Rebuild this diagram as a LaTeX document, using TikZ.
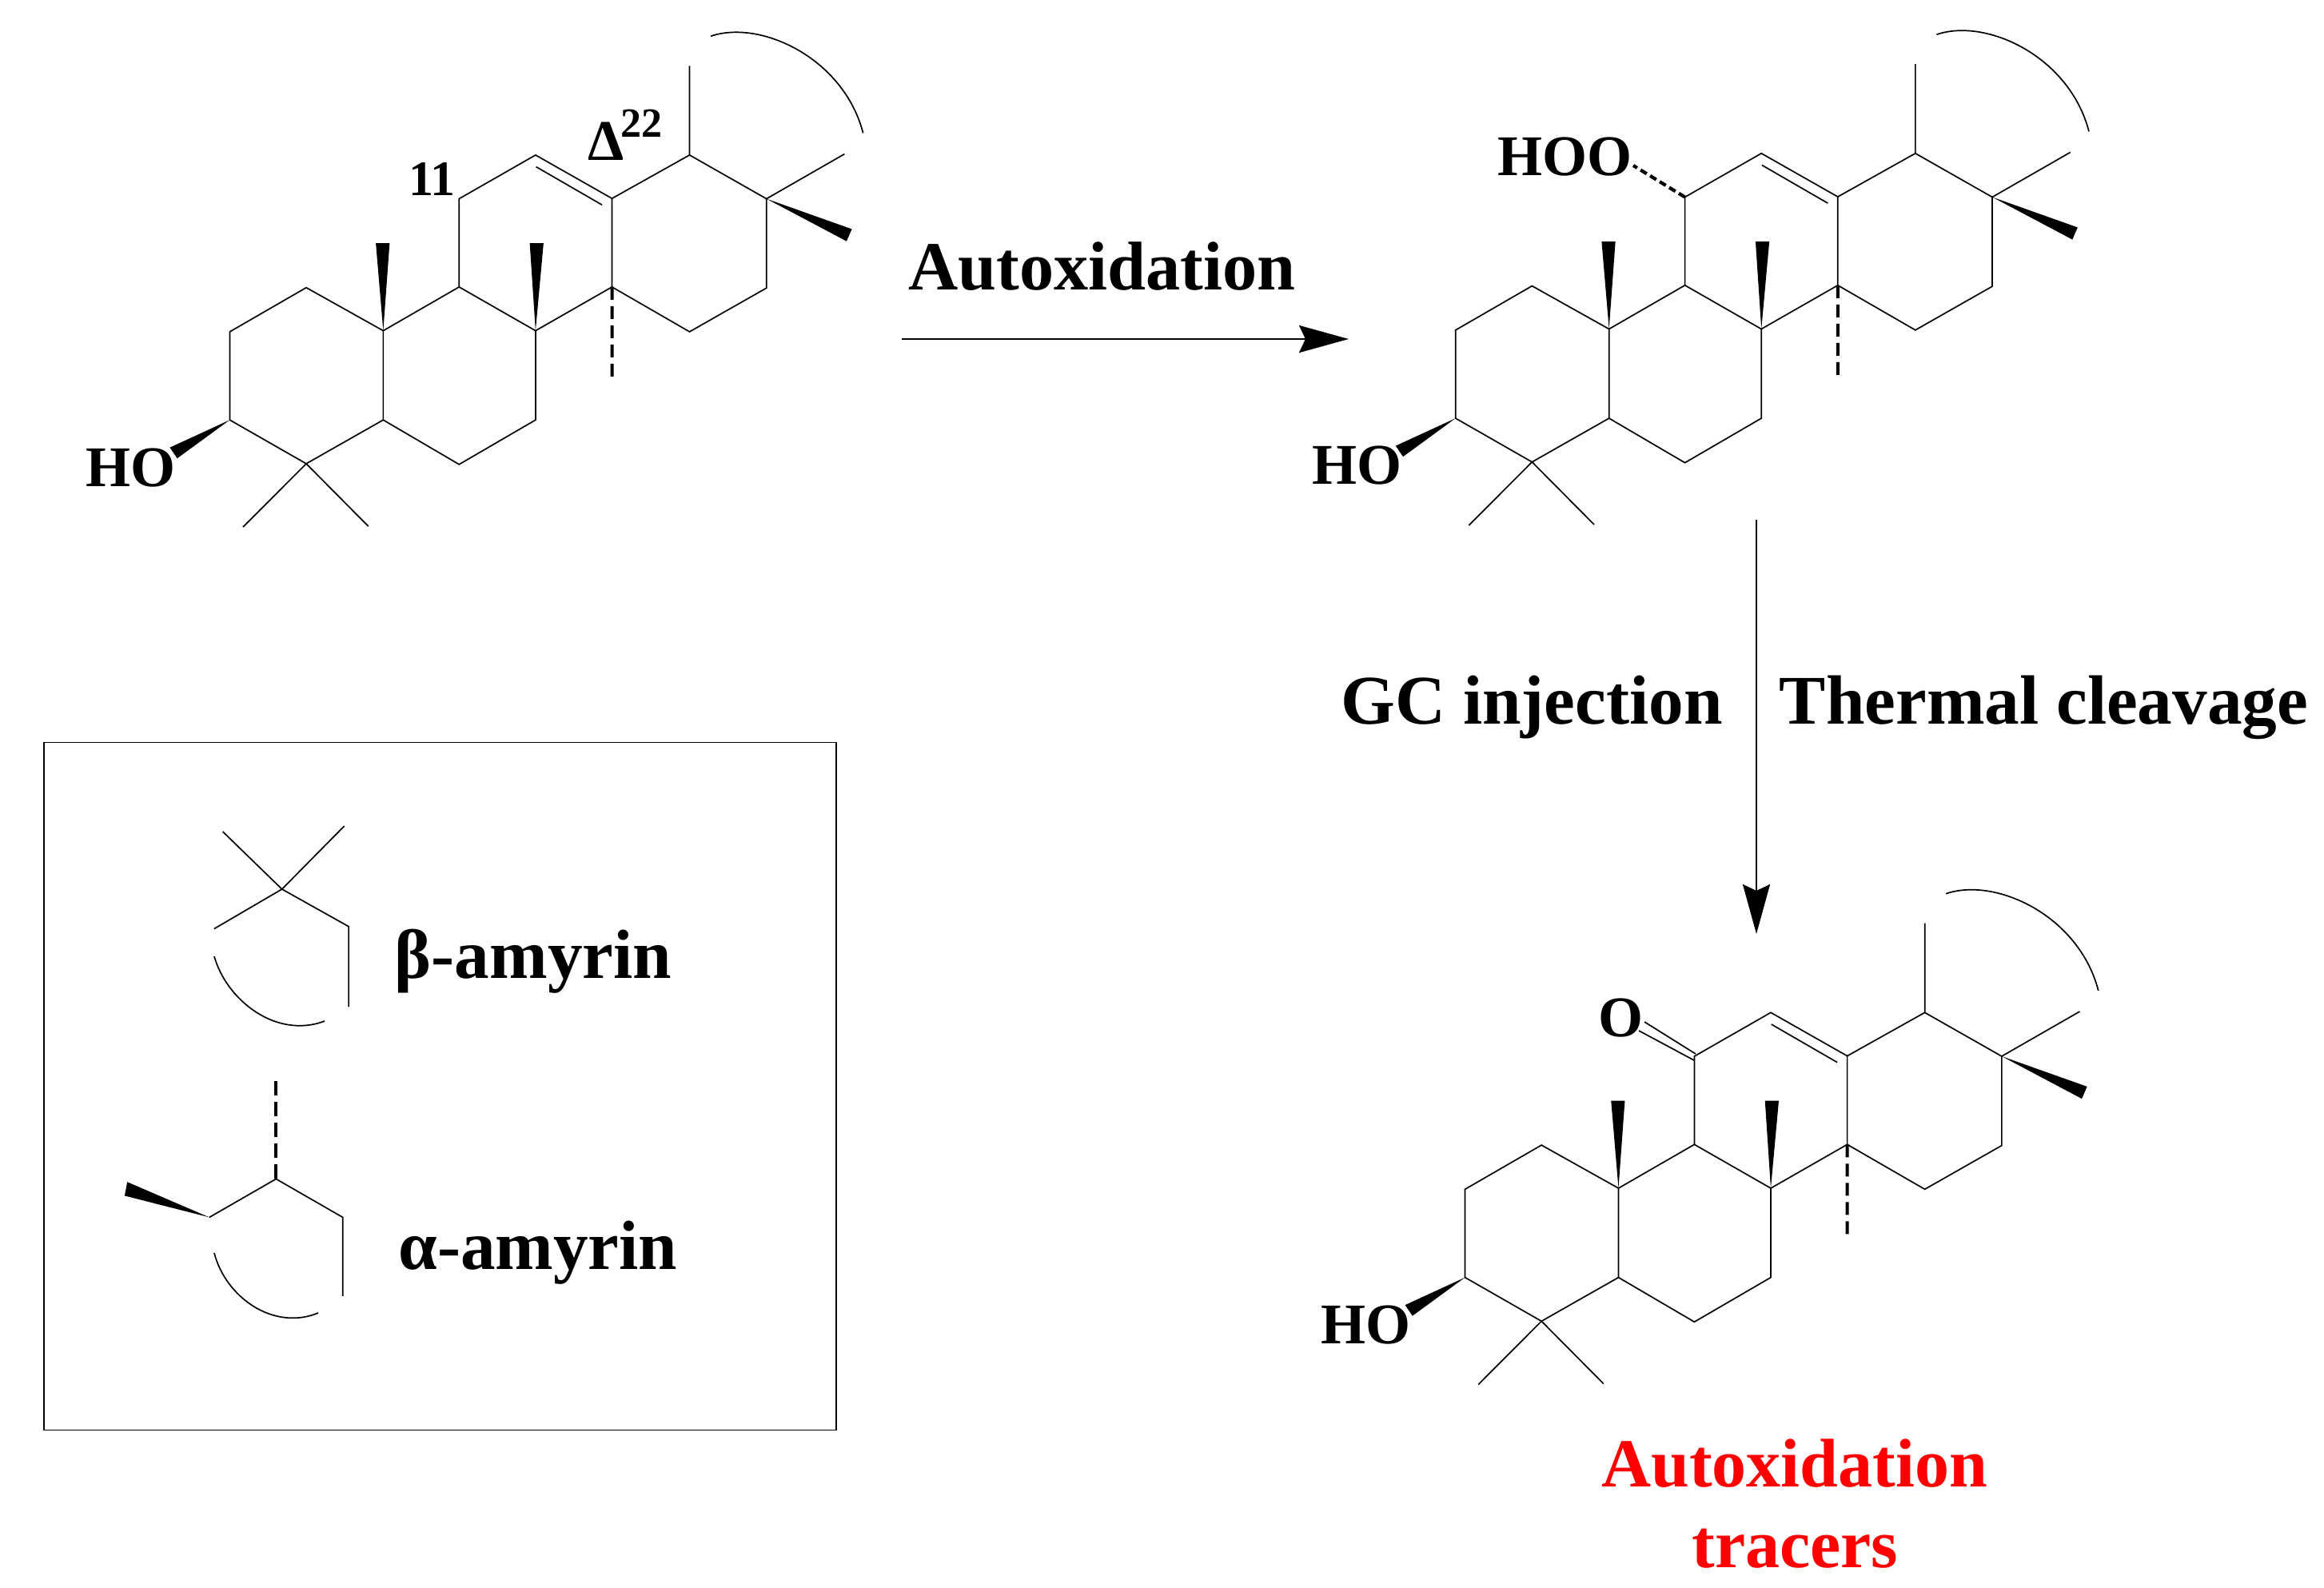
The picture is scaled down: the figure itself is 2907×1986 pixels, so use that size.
\documentclass[tikz,border=0pt]{standalone}
\usepackage{fontspec}
\setmainfont{Liberation Serif}
\usetikzlibrary{arrows.meta}
\tikzset{
    bond/.style = {line width=0.85pt, line join=miter},
    hashbond/.style = {line width=2pt, dash pattern=on 8pt off 4pt},
    boldlabel/.style = {font=\bfseries\fontsize{43.6}{46}\selectfont, anchor=base west, inner sep=0pt},
    atomlabel/.style = {font=\bfseries\fontsize{36}{38}\selectfont, anchor=base west, inner sep=0pt},
    reaction/.style = {line width=1.3pt, -{Stealth[length=31pt,width=17pt,inset=4pt]}},
    molecule/.style = {xscale=0.996},
    pics/triterpane/.style = {code = {
        \foreach \atom/\px/\py in {a1/289.3/525.2, a2/289.3/414.9, a3/385.3/359.7, a4/482/413.6, a5/482/525.2, a6/385.3/579.9,
                                   b1/577.3/580.8, b2/673.3/525.2, b3/673.3/413.6, b4/577.3/358.9,
                                   c1/769.3/358.9, c2/769.3/248.2, c3/673.3/193.9, c4/577.3/248.6,
                                   d1/866.7/193.9, d2/963.3/248.6, d3/963.3/360.2, d4/866.7/414.9}
            \coordinate (\atom) at (\px,\py);
        % rings
        \draw[bond] (a1) -- (a2) -- (a3) -- (a4) -- (a5) -- (a6) -- cycle;
        \draw[bond] (a5) -- (b1) -- (b2) -- (b3) -- (b4) -- (a4);
        \draw[bond] (b3) -- (c1) -- (c2) -- (c3) -- (c4) -- (b4);
        \draw[bond] (c1) -- (d4) -- (d3) -- (d2) -- (d1) -- (c2);
        \draw[bond] (674,208.6) -- (756.7,256.2);
        % methyls
        \draw[bond] (a6) -- (306,659.1);
        \draw[bond] (a6) -- (463.3,658.2);
        \draw[bond] (d1) -- (866.7,82.3);
        \draw[bond] (d2) -- (1061.3,192.6);
        \draw[hashbond] (c1) -- (769.3,470.9);
        \fill (a4) -- (472.7,304.2) -- (490,304.2) -- cycle;
        \fill (b3) -- (666,304.2) -- (683.3,304.2) -- cycle;
        \fill (d2) -- (1070.5,286.5) -- (1063.9,301.7) -- cycle;
        \fill (a1) -- (214,559.7) -- (223.3,573.2) -- cycle;
        \draw[bond] (893.3,45.3) .. controls (955,24) and (1060,72) .. (1084.7,166.5);
        \node[atomlabel] (ho) at (108.5,608) {HO};
    }}
}
\begin{document}
\begin{tikzpicture}[x=0.5pt, y=-0.5pt]
    \useasboundingbox (0,0) rectangle (2907,1986);
    \pic[molecule] (m1) at (-0.7,0) {triterpane};
    \pic[molecule] (m2) at (1532.6,-2.1) {triterpane};
    \pic[molecule] (m3) at (1544.4,1072.4) {triterpane};

    \node[font=\bfseries\fontsize{31}{32}\selectfont, anchor=base west, inner sep=0pt] (num11) at (511,244) {11};
    \node[font=\bfseries\fontsize{36}{38}\selectfont, anchor=base west, inner sep=0pt] (delta) at (735,200) {Δ};
    \node[font=\bfseries\fontsize{26}{28}\selectfont, anchor=base west, inner sep=0pt] (num22) at (776,171) {22};

    % hydroperoxide and ketone
    \node[atomlabel] (hoo) at (1873,219) {HOO};
    \coordinate (hooend) at (2043,207);
    \draw[line width=2.1pt, dash pattern=on 4.5pt off 2.5pt] (m2c4) -- (hooend);
    \node[atomlabel] (ketone) at (1999,1296) {O};
    \coordinate (ketone1) at (2057,1278);
    \coordinate (ketone2) at (2050,1289);
    \coordinate (ketone3) at (2121,1318);
    \coordinate (ketone4) at (2119,1326);
    \draw[bond] (ketone1) -- (ketone3);
    \draw[bond] (ketone2) -- (ketone4);

    % reactions
    \coordinate (auto1) at (1128,424);
    \coordinate (auto2) at (1687,424);
    \coordinate (gc1) at (2197,650);
    \coordinate (gc2) at (2197,1168);
    \draw[reaction] (auto1) -- (auto2);
    \draw[reaction] (gc1) -- (gc2);
    \node[boldlabel, font=\bfseries\fontsize{43.1}{46}\selectfont] (autoxidation) at (1136,362) {Autoxidation};
    \node[boldlabel] (gc) at (1677,905) {GC injection};
    \node[boldlabel] (thermal) at (2225.5,905) {Thermal cleavage};
    \node[boldlabel, font=\bfseries\fontsize{43}{46}\selectfont, text=red] (tracer1) at (2003,1859) {Autoxidation};
    \node[boldlabel, font=\bfseries\fontsize{43}{46}\selectfont, text=red] (tracer2) at (2116,1960) {tracers};

    % legend
    \draw[line width=0.7pt] (55,928.5) rectangle (1046,1788.5);
    \coordinate (bc) at (352.7,1112);
    \coordinate (bl) at (267.8,1161.6);
    \coordinate (br) at (436.1,1158.7);
    \draw[bond] (bc) -- (278.6,1040);
    \draw[bond] (bc) -- (430.7,1033);
    \draw[bond] (bl) -- (bc) -- (br) -- (436.1,1259);
    \draw[bond] (268,1196) .. controls (283,1250) and (345,1300) .. (406,1277);
    \node[boldlabel] (beta) at (493.5,1223) {β-amyrin};
    \coordinate (ac) at (345.3,1474.4);
    \coordinate (al) at (261.9,1522.4);
    \coordinate (ar) at (428.7,1522.4);
    \draw[hashbond, dash pattern=on 9pt off 4pt] (ac) -- (345.3,1352.4);
    \draw[bond] (al) -- (ac) -- (ar) -- (428.7,1620.8);
    \fill (al) -- (159.2,1478.2) -- (155.9,1495.4) -- cycle;
    \draw[bond] (268,1567) .. controls (282,1622) and (342,1665) .. (398,1642);
    \node[boldlabel] (alpha) at (498,1587) {α-amyrin};
\end{tikzpicture}
\end{document}
